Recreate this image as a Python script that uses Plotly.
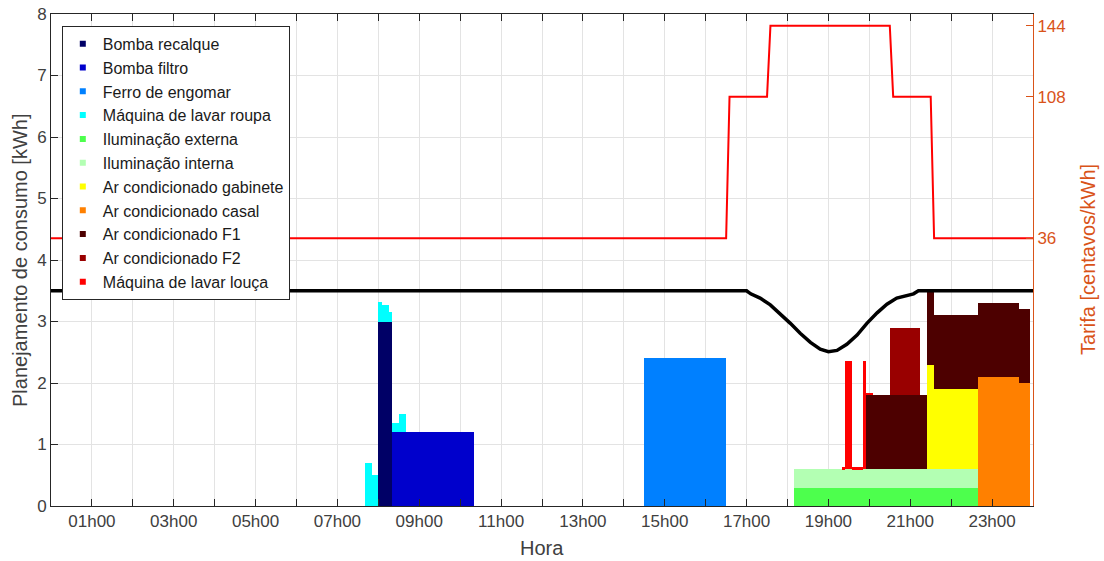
import plotly.graph_objects as go

# ---------------- data ----------------
aparelhos = ["Bomba recalque", "Bomba filtro", "Ferro de engomar", "Máquina de lavar roupa",
             "Iluminação externa", "Iluminação interna", "Ar condicionado gabinete",
             "Ar condicionado casal", "Ar condicionado F1", "Ar condicionado F2",
             "Máquina de lavar louça"]
cores = ["#000066", "#0000CC", "#0080FF", "#00FFFF", "#4DFF4D", "#B3FFB3",
         "#FFFF00", "#FF8000", "#4D0000", "#990000", "#FF0000"]

# consumption schedule per appliance: (start, end, kW)
bomba_recalque = [("08:00", "08:20", 3.0)]
bomba_filtro = [("08:20", "10:20", 1.2)]
ferro_engomar = [("14:30", "16:30", 2.4)]
maquina_roupa = [("07:40", "07:50", 0.7), ("07:50", "08:00", 0.5), ("08:00", "08:05", 0.31),
                 ("08:05", "08:15", 0.27), ("08:15", "08:20", 0.15), ("08:20", "08:30", 0.15),
                 ("08:30", "08:40", 0.3)]
ilum_externa = [("18:10", "22:40", 0.3)]
ilum_interna = [("18:10", "22:40", 0.3)]
ar_gabinete = [("21:25", "21:35", 1.7), ("21:35", "22:40", 1.3)]
ar_casal = [("22:40", "23:40", 2.1), ("23:40", "23:55", 2.0)]
ar_f1 = [("19:55", "23:55", 1.2)]
ar_f2 = [("20:30", "21:15", 1.1)]
maquina_louca = [("19:20", "19:25", 0.03), ("19:25", "19:35", 1.76), ("19:35", "19:50", 0.03),
                 ("19:50", "19:55", 1.76), ("19:55", "20:05", 0.04)]

# consumption limit curve (hour, kWh)
limite_hora = [0, 17.0, 17.1, 17.33, 17.58, 17.82, 18.07, 18.31, 18.56, 18.80, 19.0, 19.21,
               19.45, 19.70, 19.94, 20.19, 20.43, 20.67, 20.92, 21.08, 21.2, 24]
limite_kwh = [3.5, 3.5, 3.45, 3.38, 3.27, 3.13, 2.97, 2.81, 2.66, 2.55, 2.51, 2.53,
              2.63, 2.78, 2.97, 3.14, 3.28, 3.38, 3.43, 3.45, 3.5, 3.5]

# tariff (hour, centavos/kWh)
tarifa_hora = [0, 16.5, 16.583, 17.5, 17.583, 20.5, 20.583, 21.5, 21.583, 24]
tarifa_valor = [36, 36, 108, 108, 144, 144, 108, 108, 36, 36]

hora_ticks = list(range(0, 25))
hora_labels = ["" if h % 2 == 0 else f"{h:02d}h00" for h in hora_ticks]
tarifa_ticks = [36, 108, 144]

# ---------------- build ----------------
series = [bomba_recalque, bomba_filtro, ferro_engomar, maquina_roupa, ilum_externa,
          ilum_interna, ar_gabinete, ar_casal, ar_f1, ar_f2, maquina_louca]

STEP = 5  # minutes
N = 24 * 60 // STEP


def to_bin(s):
    h, m = s.split(":")
    return (int(h) * 60 + int(m)) // STEP


values = []
for segs in series:
    v = [0.0] * N
    for a, b, k in segs:
        for i in range(to_bin(a), to_bin(b)):
            v[i] = k
    values.append(v)

FONT = "Liberation Sans, Arial, Helvetica, sans-serif"
AX = "#262626"
TXT = "#404040"
ORANGE = "#D95319"

fig = go.Figure()
base = [0.0] * N
for name, color, v in zip(aparelhos, cores, values):
    xs, ws, ys, bs = [], [], [], []
    i = 0
    while i < N:
        if v[i] <= 0:
            i += 1
            continue
        j = i
        while j + 1 < N and v[j + 1] == v[i] and abs(base[j + 1] - base[i]) < 1e-9:
            j += 1
        s0 = i * STEP / 60
        s1 = (j + 1) * STEP / 60
        xs.append((s0 + s1) / 2)
        ws.append(s1 - s0)
        ys.append(v[i])
        bs.append(base[i])
        i = j + 1
    fig.add_trace(go.Bar(x=xs, y=ys, base=bs, width=ws,
                         marker=dict(color=color, line=dict(width=0)),
                         showlegend=False, hoverinfo="skip"))
    base = [b + x for b, x in zip(base, v)]

# legend entries
for name, color in zip(aparelhos, cores):
    fig.add_trace(go.Scatter(x=[None], y=[None], mode="markers", name=name,
                             marker=dict(symbol="square", size=6, color=color)))

fig.add_trace(go.Scatter(x=limite_hora, y=limite_kwh, mode="lines",
                         line=dict(color="black", width=3.5), showlegend=False, hoverinfo="skip"))
fig.add_trace(go.Scatter(x=tarifa_hora, y=tarifa_valor, mode="lines", yaxis="y2",
                         line=dict(color="#FF0000", width=2), showlegend=False, hoverinfo="skip"))

fig.update_layout(
    width=1104, height=561,
    margin=dict(l=51, r=71, t=14, b=55, autoexpand=False),
    paper_bgcolor="white", plot_bgcolor="white",
    barmode="overlay", bargap=0,
    font=dict(family=FONT, size=17, color=TXT),
    xaxis=dict(range=[0, 24], tickvals=hora_ticks, ticktext=hora_labels, automargin=False,
               showgrid=True, gridcolor="#E3E3E3", gridwidth=1, zeroline=False,
               showline=True, linecolor=AX, linewidth=1, mirror="ticks",
               ticks="inside", ticklen=7, tickcolor=AX,
               tickfont=dict(size=17, color=TXT)),
    yaxis=dict(range=[0, 8], dtick=1, showgrid=True, gridcolor="#E3E3E3", zeroline=False,
               showline=True, linecolor=AX, linewidth=1, automargin=False,
               ticks="inside", ticklen=7, tickcolor=AX,
               tickfont=dict(size=17, color=TXT)),
    yaxis2=dict(range=[-100, 150], overlaying="y", side="right", tickvals=tarifa_ticks,
                showgrid=False, zeroline=False, showline=True, linecolor=ORANGE, linewidth=1,
                ticks="inside", ticklen=7, tickcolor=ORANGE, automargin=False,
                tickfont=dict(size=17, color=ORANGE)),
    legend=dict(x=0.011, y=0.976, xanchor="left", yanchor="top",
                bgcolor="white", bordercolor=AX, borderwidth=1,
                font=dict(size=16, color="#1A1A1A"), tracegroupgap=0,
                itemsizing="trace"),
    annotations=[
        dict(text="Hora", xref="paper", yref="paper", x=0.5, y=0, yshift=-42,
             showarrow=False, xanchor="center", yanchor="middle",
             font=dict(size=20, color=TXT)),
        dict(text="Planejamento de consumo [kWh]", xref="paper", yref="paper", x=0, y=0.5,
             xshift=-31, textangle=-90, showarrow=False, xanchor="center", yanchor="middle",
             font=dict(size=20, color=TXT)),
        dict(text="Tarifa [centavos/kWh]", xref="paper", yref="paper", x=1, y=0.5,
             xshift=55, textangle=-90, showarrow=False, xanchor="center", yanchor="middle",
             font=dict(size=20, color=ORANGE)),
    ],
)

fig.write_html("out.html", config={"displayModeBar": False},
               post_script="document.body.style.margin='0';")
